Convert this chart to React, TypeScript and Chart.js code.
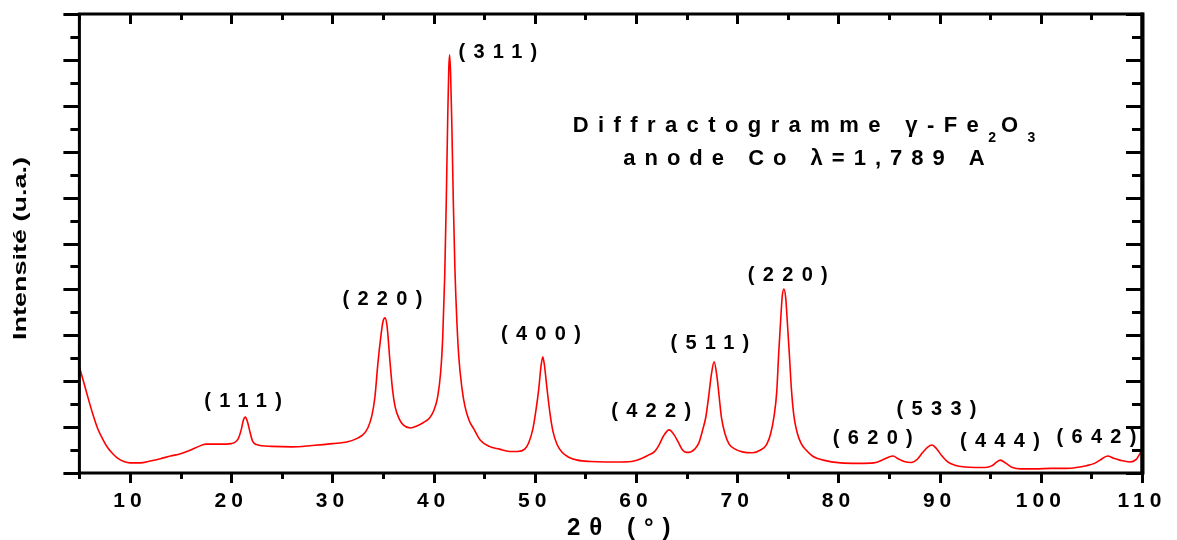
import React, { useEffect, useRef } from 'react';
import { Chart, registerables } from 'chart.js';

Chart.register(...registerables);

// 2θ (degrees) and intensity (arbitrary units, 0..10 axis)
const twoTheta = [
  5.0, 5.4, 5.8, 6.3, 6.8, 7.3, 7.8, 8.3, 8.8, 9.4, 10.0, 11.0, 12.0, 13.0, 14.0, 15.0, 16.0, 16.8, 17.5, 18.5, 19.5, 20.0,
  20.3, 20.7, 21.0, 21.2, 21.4, 21.6, 21.85, 22.1, 22.5, 24.0, 26.0, 28.0, 30.0,
  31.5, 32.5, 33.0, 33.5, 33.9, 34.2, 34.5, 34.8, 35.0, 35.2, 35.4, 35.7, 35.95, 36.2, 36.6, 37.0, 37.7, 38.4, 39.0,
  39.6, 40.0, 40.4, 40.7, 40.9, 41.1, 41.25, 41.4, 41.5, 41.58, 41.68, 41.8, 41.95, 42.1, 42.3, 42.5, 42.8, 43.1, 43.5, 44.0,
  44.6, 45.5, 46.5, 47.5, 48.3, 49.0, 49.4, 49.8, 50.1, 50.4, 50.6, 50.79, 50.95, 51.2, 51.5, 51.8, 52.2, 52.7, 53.3, 54.2,
  55.5, 57.0, 58.5, 59.8, 60.6, 61.3, 61.8, 62.3, 62.7, 63.27, 63.8, 64.2, 64.6, 65.0, 65.4, 65.8,
  66.2, 66.6, 66.9, 67.2, 67.45, 67.72, 68.0, 68.2, 68.45, 68.8, 69.2, 69.8, 70.5, 71.5, 72.3, 72.9,
  73.3, 73.65, 73.9, 74.1, 74.3, 74.45, 74.62, 74.8, 74.95, 75.15, 75.35, 75.6, 75.9, 76.3, 76.8, 77.5, 78.5, 80.2,
  82.0, 83.5, 84.5, 85.0, 85.4, 85.9, 86.5, 87.2, 87.8, 88.3, 88.8, 89.25, 89.7, 90.2, 90.8, 91.5, 92.5, 93.5, 94.5,
  95.2, 95.6, 96.0, 96.5, 97.2, 98.0, 99.5, 101.0, 102.5, 103.5, 104.5, 105.3, 105.85, 106.6, 107.2, 107.8, 108.8, 109.4, 110.0,
];
const intensity = [
  2.31, 2.0, 1.68, 1.3, 0.97, 0.74, 0.55, 0.42, 0.32, 0.25, 0.22, 0.22, 0.26, 0.31, 0.37, 0.42, 0.5, 0.58, 0.63, 0.63, 0.63, 0.64,
  0.66, 0.75, 0.95, 1.15, 1.22, 1.12, 0.9, 0.7, 0.62, 0.58, 0.57, 0.6, 0.64,
  0.68, 0.76, 0.83, 0.98, 1.25, 1.65, 2.4, 3.0, 3.3, 3.38, 3.2, 2.4, 1.8, 1.44, 1.18, 1.05, 0.98, 1.03, 1.1,
  1.2, 1.35, 1.66, 2.2, 2.95, 4.3, 5.9, 7.8, 8.8, 9.11, 8.7, 7.6, 5.9, 4.5, 3.3, 2.5, 1.85, 1.45, 1.15, 0.95,
  0.72, 0.58, 0.52, 0.47, 0.47, 0.52, 0.66, 0.95, 1.35, 1.85, 2.3, 2.53, 2.35, 1.85, 1.3, 0.9, 0.62, 0.45, 0.35, 0.28,
  0.25, 0.24, 0.24, 0.26, 0.32, 0.4, 0.46, 0.62, 0.8, 0.94, 0.82, 0.66, 0.5, 0.45, 0.46, 0.52,
  0.65, 0.95, 1.22, 1.7, 2.15, 2.42, 2.1, 1.7, 1.2, 0.85, 0.63, 0.52, 0.46, 0.44, 0.5, 0.62,
  0.85, 1.25, 1.75, 2.6, 3.35, 3.85, 4.01, 3.8, 3.3, 2.6, 1.85, 1.25, 0.9, 0.65, 0.5, 0.36, 0.28, 0.22,
  0.21, 0.22, 0.3, 0.35, 0.37, 0.31, 0.25, 0.23, 0.3, 0.44, 0.56, 0.61, 0.53, 0.38, 0.24, 0.17, 0.13, 0.12, 0.12,
  0.16, 0.23, 0.28, 0.22, 0.12, 0.09, 0.09, 0.1, 0.1, 0.12, 0.16, 0.21, 0.28, 0.37, 0.32, 0.28, 0.24, 0.29, 0.5,
];

// Miller-index labels and their anchor (centre) in data coordinates
const peakLabels = ['(111)', '(220)', '(311)', '(400)', '(422)', '(511)', '(220)', '(620)', '(533)', '(444)', '(642)'];
const peakLabelX = [21.17, 34.94, 46.35, 50.6, 61.5, 67.3, 75.0, 83.4, 89.7, 95.96, 105.5];
const peakLabelY = [1.55, 3.77, 9.17, 3.01, 1.35, 2.83, 4.31, 0.76, 1.39, 0.68, 0.78];

const xMin = 5;
const xMax = 110;
const yMin = 0;
const yMax = 10;

const titleLine1 = ['Diffractogramme γ-Fe', '2', 'O', '3'];
const titleLine2 = 'anode Co λ=1,789 A';
const titleCenterX = 76.6;
const titleLine1Y = 7.43;
const titleLine2Y = 6.71;

const xTitle = '2θ (°)';
const yTitle = 'Intensité (u.a.)';

const FAMILY = "'Liberation Sans', Arial, Helvetica, sans-serif";

function spacedWidth(ctx: CanvasRenderingContext2D, text: string, spacing: number) {
  const c: any = ctx;
  const prev = c.letterSpacing;
  if (prev !== undefined) c.letterSpacing = '0px';
  const w = ctx.measureText(text).width;
  if (prev !== undefined) c.letterSpacing = prev;
  return w + spacing * [...text].length;
}

function drawSpaced(ctx: CanvasRenderingContext2D, text: string, x: number, y: number, spacing: number) {
  const c: any = ctx;
  if (c.letterSpacing !== undefined) c.letterSpacing = spacing + 'px';
  ctx.textAlign = 'left';
  ctx.fillText(text, x, y);
  if (c.letterSpacing !== undefined) c.letterSpacing = '0px';
}

const decorPlugin = {
  id: 'decor',
  beforeDraw(chart: any) {
    const ctx = chart.ctx;
    ctx.save();
    ctx.fillStyle = '#ffffff';
    ctx.fillRect(0, 0, chart.width, chart.height);
    ctx.restore();
    if (ctx.letterSpacing !== undefined) ctx.letterSpacing = '5px';
  },
  beforeDatasetsDraw(chart: any) {
    const ctx = chart.ctx;
    if (ctx.letterSpacing !== undefined) ctx.letterSpacing = '0px';
  },
  afterDraw(chart: any) {
    const ctx: CanvasRenderingContext2D = chart.ctx;
    const ca = chart.chartArea;
    const xs = chart.scales.x;
    const ys = chart.scales.y;
    ctx.save();
    ctx.strokeStyle = '#000';
    ctx.fillStyle = '#000';
    ctx.lineCap = 'butt';

    // ticks
    ctx.lineWidth = 3;
    for (let v = xMin; v <= xMax + 1e-9; v += 5) {
      const px = Math.round(xs.getPixelForValue(v)) + 0.5;
      const major = v % 10 === 0;
      const lb = major ? 10 : 6;
      const lt = major ? 10 : 6;
      ctx.beginPath();
      ctx.moveTo(px, ca.bottom);
      ctx.lineTo(px, ca.bottom + lb);
      ctx.moveTo(px, ca.top);
      ctx.lineTo(px, ca.top + lt);
      ctx.stroke();
    }
    for (let v = yMin; v <= yMax + 1e-9; v += 0.5) {
      const py = Math.round(ys.getPixelForValue(v)) + 0.5;
      const major = Math.abs(v - Math.round(v)) < 1e-9;
      const ll = major ? 16 : 9;
      const lr = major ? 16 : 10;
      ctx.beginPath();
      ctx.moveTo(ca.left - ll, py);
      ctx.lineTo(ca.left, py);
      ctx.moveTo(ca.right - lr, py);
      ctx.lineTo(ca.right, py);
      ctx.stroke();
    }
    // frame
    ctx.lineWidth = 3;
    ctx.strokeRect(ca.left, ca.top, ca.right - ca.left, ca.bottom - ca.top);
    ctx.lineWidth = 4;
    ctx.beginPath();
    ctx.moveTo(ca.right + 0.5, ca.top - 1.5);
    ctx.lineTo(ca.right + 0.5, ca.bottom + 1.5);
    ctx.stroke();

    // peak labels
    ctx.font = `bold 20px ${FAMILY}`;
    ctx.textBaseline = 'middle';
    const sp = 8.3;
    peakLabels.forEach((t, i) => {
      const cx = xs.getPixelForValue(peakLabelX[i]);
      const cy = ys.getPixelForValue(peakLabelY[i]);
      const w = spacedWidth(ctx, t, sp) - sp;
      drawSpaced(ctx, t, cx - w / 2, cy, sp);
    });

    // title block
    ctx.textBaseline = 'alphabetic';
    const bigFont = `bold 22px ${FAMILY}`;
    const subFont = `bold 14px ${FAMILY}`;
    const s1 = 9.4;
    const segs = titleLine1.map((t, i) => ({ t, sub: i % 2 === 1 }));
    let total = 0;
    const widths: number[] = [];
    segs.forEach((s) => {
      ctx.font = s.sub ? subFont : bigFont;
      const w = spacedWidth(ctx, s.t, s.sub ? 5 : s1);
      widths.push(w);
      total += w;
    });
    total -= 5;
    const tcx = xs.getPixelForValue(titleCenterX);
    let x = tcx - total / 2;
    const b1 = ys.getPixelForValue(titleLine1Y);
    segs.forEach((s, i) => {
      ctx.font = s.sub ? subFont : bigFont;
      drawSpaced(ctx, s.t, x, s.sub ? b1 + 10 : b1, s.sub ? 5 : s1);
      x += widths[i];
    });
    ctx.font = bigFont;
    const s2 = 9;
    const w2 = spacedWidth(ctx, titleLine2, s2) - s2;
    drawSpaced(ctx, titleLine2, tcx - w2 / 2, ys.getPixelForValue(titleLine2Y), s2);

    // x axis title
    ctx.font = `bold 24px ${FAMILY}`;
    const s3 = 9;
    const w3 = spacedWidth(ctx, xTitle, s3) - s3;
    const xtc = xs.getPixelForValue(58.3);
    drawSpaced(ctx, xTitle, xtc - w3 / 2, ca.bottom + 62, s3);

    // y axis title (horizontally stretched as in the original)
    ctx.font = `bold 19px ${FAMILY}`;
    ctx.save();
    ctx.translate(26, (ca.top + ca.bottom) / 2 + 5);
    ctx.rotate(-Math.PI / 2);
    ctx.scale(1.42, 1);
    ctx.textAlign = 'center';
    ctx.fillText(yTitle, 0, 0);
    ctx.restore();

    ctx.restore();
  },
};

export default function App() {
  const ref = useRef<HTMLCanvasElement>(null);
  useEffect(() => {
    if (!ref.current) return;
    const data = twoTheta.map((x, i) => ({ x, y: intensity[i] }));
    const chart = new Chart(ref.current, {
      type: 'line',
      data: {
        datasets: [
          {
            data,
            borderColor: '#ff0000',
            borderWidth: 1.6,
            pointRadius: 0,
            cubicInterpolationMode: 'monotone',
            fill: false,
          },
        ],
      },
      options: {
        animation: false,
        responsive: false,
        devicePixelRatio: 1,
        layout: { padding: { left: 79.4, right: 35, top: 14, bottom: 0 } },
        plugins: { legend: { display: false }, tooltip: { enabled: false } },
        scales: {
          x: {
            type: 'linear',
            min: xMin,
            max: xMax,
            grid: { display: false },
            border: { display: false },
            afterFit: (s: any) => {
              s.height = 67;
            },
            ticks: {
              stepSize: 5,
              autoSkip: false,
              maxRotation: 0,
              padding: 8,
              color: '#000',
              font: { family: FAMILY, size: 21, weight: 'bold' },
              callback: (v: any) => (Number(v) % 10 === 0 ? String(v) : ''),
            },
          },
          y: {
            type: 'linear',
            min: yMin,
            max: yMax,
            display: false,
          },
        },
      },
      plugins: [decorPlugin],
    } as any);
    return () => chart.destroy();
  }, []);
  return (
    <div style={{ position: 'fixed', left: 0, top: 0, width: 1177, height: 540, background: '#fff' }}>
      <canvas ref={ref} width={1177} height={540} />
    </div>
  );
}
